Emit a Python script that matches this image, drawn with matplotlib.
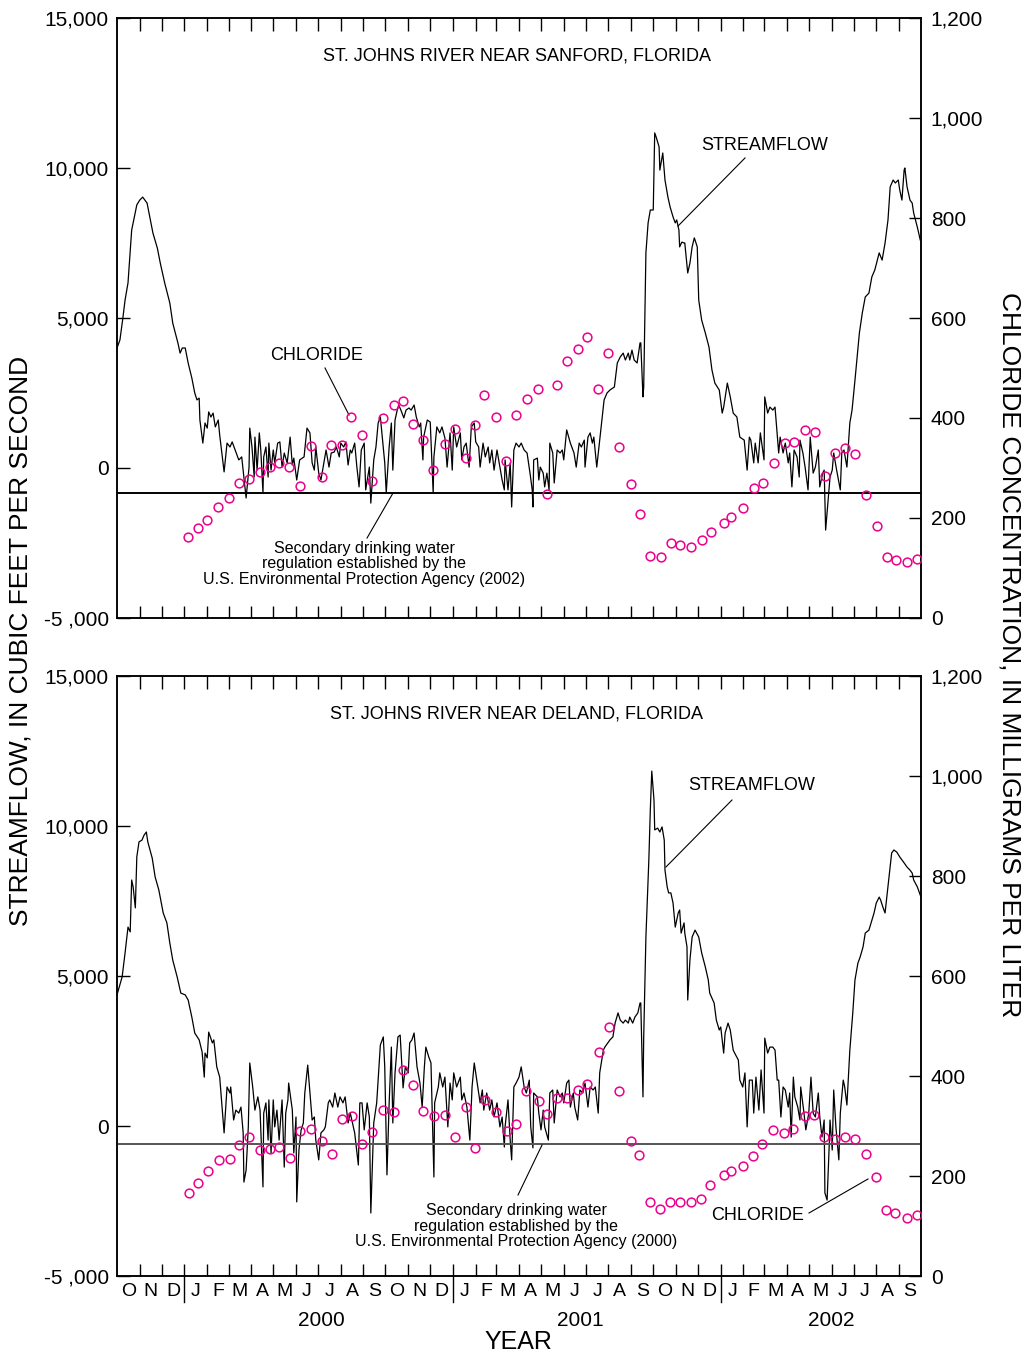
import numpy as np
import matplotlib
matplotlib.use('Agg')
import matplotlib.pyplot as plt
import matplotlib.transforms as mtransforms

plt.rcParams['font.family'] = ['Liberation Sans', 'DejaVu Sans']

START = np.datetime64('1999-10-01')

# streamflow, (days after 1 Oct 1999, cubic feet per second)
SANFORD_FLOW = [
    (0, 4000), (4, 4270), (8, 5000), (11, 5600), (15, 6170), (16, 6530), (20, 7930), (27, 8770),
    (31, 8930), (35, 9030), (41, 8830), (49, 7830), (55, 7330), (59, 6830), (65, 6170), (72, 5500),
    (76, 4830), (83, 4170), (86, 3830), (89, 4000), (93, 4000), (97, 3500), (102, 3000), (106, 2500),
    (109, 2270), (112, 2330), (113, 1600), (117, 830), (120, 1500), (123, 1330), (125, 1870), (128, 1700),
    (131, 1830), (134, 1370), (138, 1600), (140, 1100), (146, -130), (150, 830), (154, 700), (157, 870),
    (161, 600), (166, 270), (170, 370), (173, -300), (176, -1000), (180, 30), (181, 1330), (184, 700),
    (187, -300), (188, 1030), (191, -70), (194, 1170), (196, 600), (199, -830), (200, 370), (203, 700),
    (206, -300), (207, 830), (210, -70), (213, 600), (215, 170), (219, 830), (222, 870), (225, 30),
    (228, 500), (232, 170), (236, 1030), (239, 100), (241, 330), (245, -400), (249, 270), (255, 370),
    (259, 1330), (263, 1170), (266, 170), (269, -70), (271, 700), (275, -170), (278, -400), (282, 170),
    (285, 600), (289, 30), (292, 500), (296, 530), (299, 700), (303, 370), (305, 830), (309, 700),
    (312, 870), (315, 100), (318, 600), (320, 500), (324, 830), (327, 30), (330, -630), (333, 600),
    (337, 830), (339, -730), (344, 30), (346, -1170), (350, 270), (353, 700), (356, 1500), (359, 1700),
    (363, 700), (365, 170), (367, -830), (371, 700), (374, 1500), (376, -70), (379, 1600), (382, 1930),
    (384, 2100), (387, 1930), (391, 1670), (394, 1930), (398, 2000), (401, 1930), (405, 2100), (408, 1700),
    (412, 1370), (414, 1500), (417, 270), (418, 1030), (423, 1600), (427, 1530), (431, -830), (432, 370),
    (436, 1370), (440, 1170), (443, 1370), (447, 1000), (450, 30), (454, 1170), (457, -70), (459, 1370),
    (463, 700), (468, 1170), (470, 270), (473, 700), (476, 830), (480, 30), (483, 1370), (487, 1500),
    (489, 870), (493, 700), (495, 30), (499, 830), (502, 370), (506, 700), (508, 170), (511, 600),
    (514, -70), (518, 600), (522, 30), (525, -400), (528, -730), (529, 270), (533, -730), (536, 170),
    (538, -1300), (541, 600), (544, 830), (548, 700), (551, 830), (555, 600), (559, 500), (563, -170),
    (566, -730), (567, -1300), (568, 270), (573, 330), (575, -400), (577, 30), (581, -170), (583, -630),
    (586, -170), (589, -730), (590, 830), (594, 500), (596, -500), (600, 600), (604, 500), (607, 600),
    (609, 270), (613, 1270), (618, 830), (620, 700), (623, 500), (626, 30), (630, 830), (633, 700),
    (637, 930), (638, 30), (642, 1030), (645, 1170), (648, 830), (650, 1030), (654, 30), (657, 700),
    (661, 1600), (664, 2270), (668, 2500), (672, 2600), (678, 2700), (682, 3500), (686, 3700), (690, 3830),
    (693, 3600), (697, 3830), (699, 3600), (702, 3930), (705, 3600), (709, 3500), (713, 4170), (714, 4170),
    (717, 2370), (718, 2700), (721, 7170), (724, 8170), (727, 8600), (731, 8600), (733, 11170), (735, 11030),
    (739, 10700), (740, 9930), (744, 10500), (747, 9600), (751, 9030), (754, 8700), (758, 8370), (761, 8170),
    (763, 8270), (766, 7930), (767, 7370), (770, 7530), (773, 7500), (774, 7500), (778, 6500), (781, 6830),
    (784, 7370), (787, 7670), (791, 7370), (793, 5600), (797, 4930), (802, 4500), (807, 4030), (811, 3270),
    (815, 2830), (821, 2600), (825, 1830), (827, 2030), (832, 2830), (836, 2370), (840, 1830), (845, 1700),
    (849, 1030), (855, 930), (859, -70), (862, 1030), (864, 930), (868, 170), (870, 830), (874, 170),
    (877, 1170), (882, 270), (883, 2370), (887, 1830), (890, 2030), (894, 1930), (897, 2030), (902, 500),
    (904, 1030), (908, 500), (911, 830), (915, 170), (917, 500), (920, -630), (923, 600), (927, 370),
    (930, -300), (931, 930), (935, 500), (938, 30), (942, -730), (945, 1030), (949, -170), (952, 30),
    (956, 600), (958, -630), (962, -170), (964, -70), (966, -2070), (969, -1170), (972, -300), (975, -70),
    (977, 500), (981, -70), (986, -730), (988, 500), (991, 600), (995, 30), (999, 1500), (1002, 1930),
    (1006, 2930), (1012, 4500), (1016, 5170), (1020, 5700), (1025, 5830), (1029, 6370), (1033, 6600),
    (1039, 7170), (1043, 6930), (1047, 7500), (1051, 8270), (1054, 9370), (1058, 9600), (1061, 9500),
    (1065, 9600), (1067, 9270), (1070, 8930), (1073, 9930), (1074, 10000), (1077, 9370), (1081, 8930),
    (1084, 8830), (1086, 8500), (1091, 8030), (1095, 7600),
]

# chloride samples, (days after 1 Oct 1999, milligrams per liter)
SANFORD_CL = [
    (97, 162), (110, 180), (123, 196), (138, 222), (153, 240), (166, 270), (180, 278), (195, 292),
    (209, 302), (221, 310), (234, 302), (249, 264), (264, 344), (279, 282), (292, 346), (307, 346),
    (319, 402), (334, 366), (348, 274), (363, 400), (378, 426), (390, 434), (403, 388), (417, 356),
    (431, 296), (447, 348), (461, 378), (476, 320), (488, 386), (500, 446), (517, 402), (530, 314),
    (544, 406), (559, 438), (574, 458), (586, 248), (600, 466), (614, 514), (628, 538), (641, 562),
    (656, 458), (670, 530), (685, 342), (700, 268), (713, 208), (727, 124), (741, 122), (755, 150),
    (768, 146), (783, 142), (797, 156), (810, 172), (827, 190), (837, 202), (853, 220), (868, 260),
    (880, 270), (895, 310), (911, 350), (923, 352), (938, 376), (952, 372), (965, 284), (979, 330),
    (993, 340), (1006, 328), (1021, 246), (1036, 184), (1050, 122), (1062, 116), (1077, 112), (1091, 118),
]

DELAND_FLOW = [
    (0, 4370), (7, 4970), (11, 5770), (15, 6630), (18, 6470), (20, 8200), (22, 7970), (25, 7270),
    (27, 8970), (30, 9470), (34, 9530), (37, 9700), (40, 9800), (42, 9470), (48, 8930), (52, 8300),
    (57, 7870), (63, 7100), (68, 6770), (72, 6100), (76, 5530), (82, 4970), (87, 4430), (93, 4370),
    (97, 4200), (102, 3630), (106, 3100), (112, 2870), (116, 2470), (119, 1630), (120, 2430), (123, 2270),
    (125, 3130), (130, 2770), (132, 2870), (136, 1970), (140, 1630), (146, -230), (150, 1300), (154, 1100),
    (155, 1300), (159, 200), (162, 530), (166, 430), (169, 630), (172, -230), (173, -1870), (176, -1470),
    (179, -30), (181, 2100), (185, 1300), (188, 530), (192, 970), (195, 530), (199, -2030), (200, 430),
    (203, 770), (206, -470), (207, 870), (210, -900), (213, 870), (215, -30), (218, 530), (221, -470),
    (225, 870), (228, -1370), (230, 430), (233, 870), (234, 1430), (239, 530), (241, -900), (244, 300),
    (245, -2530), (248, -800), (251, -130), (254, 100), (256, 1100), (260, 2030), (263, 1100), (266, 200),
    (269, 300), (271, -470), (275, -1130), (278, -230), (282, -130), (284, -30), (288, 770), (290, 870),
    (294, 630), (297, 1100), (301, 630), (304, 970), (308, 770), (311, 970), (315, 100), (318, 430),
    (323, -130), (324, -230), (329, -1300), (331, 770), (334, 770), (337, -130), (341, 770), (344, 300),
    (346, -2900), (349, -700), (350, 100), (354, 770), (359, 2700), (363, 2970), (365, 1970), (368, -1630),
    (371, 770), (374, 2630), (376, 100), (379, 1770), (383, 2970), (386, 3030), (390, 1270), (393, 1970),
    (397, 1770), (399, 2770), (402, 2870), (405, 3100), (409, 1970), (413, 1430), (416, 630), (419, 1970),
    (421, 2630), (425, 2300), (428, 2100), (432, -1700), (433, 770), (438, 1300), (440, 1770), (444, 1300),
    (447, 1630), (451, -30), (454, 1430), (457, 870), (459, 1770), (463, 1300), (468, 1630), (470, 870),
    (473, 1100), (477, 630), (481, -470), (484, 1300), (487, 2100), (491, 1430), (495, 770), (498, 1200),
    (500, 530), (504, 1100), (508, 530), (511, 870), (514, 300), (518, 770), (522, -30), (525, 300),
    (528, -700), (529, -30), (533, 870), (536, -470), (538, -1130), (541, 1300), (544, 1430), (548, 1630),
    (551, 1970), (555, 1300), (558, 1100), (562, 1530), (564, -30), (567, -730), (568, 1100), (573, 970),
    (575, 430), (578, -130), (581, 530), (583, -30), (588, -470), (590, 1100), (594, 1200), (596, 100),
    (600, 1200), (604, 970), (607, 1100), (609, 770), (613, 1430), (616, 1530), (618, 630), (622, 1100),
    (624, 630), (628, 200), (631, 1200), (635, 1100), (638, 1430), (642, 630), (645, 1300), (649, 1200),
    (652, 1300), (656, 430), (658, 1770), (663, 2530), (665, 2630), (669, 2770), (672, 2870), (676, 2970),
    (679, 3430), (683, 3770), (686, 3530), (690, 3430), (693, 3530), (697, 3430), (699, 3630), (703, 3430),
    (706, 3630), (710, 3770), (713, 4100), (714, 4100), (717, 970), (718, 2970), (721, 6300), (725, 8870),
    (727, 10530), (729, 11830), (732, 10870), (733, 9870), (737, 9930), (740, 9800), (743, 9970), (746, 9530),
    (747, 8530), (750, 7970), (752, 7770), (755, 7770), (758, 7430), (761, 6630), (765, 7100), (767, 7200),
    (769, 6430), (773, 6770), (774, 6430), (777, 5970), (778, 4200), (781, 5530), (784, 6300), (788, 6530),
    (793, 6300), (797, 5770), (802, 5300), (806, 4870), (808, 4430), (814, 4100), (817, 3530), (821, 3200),
    (823, 3300), (827, 2430), (829, 3100), (833, 3430), (836, 3200), (840, 2530), (842, 2430), (847, 2200),
    (849, 1530), (853, 1300), (856, 1770), (859, -30), (862, 1530), (866, 1530), (868, 430), (871, 1630),
    (875, 530), (878, 1870), (882, 430), (883, 2930), (887, 2430), (890, 2630), (894, 2630), (897, 2530),
    (900, 1530), (902, 1530), (905, 300), (908, 1300), (911, 1200), (915, 630), (917, 1100), (919, -370),
    (922, 1630), (924, 970), (928, 630), (931, 200), (932, 1300), (936, 530), (939, -130), (943, 430),
    (946, 1630), (949, 430), (952, 300), (956, 1100), (958, 300), (961, -370), (964, 200), (965, -2230),
    (968, -2470), (971, -570), (972, 200), (975, -800), (977, 1200), (980, -30), (984, -1130), (986, 430),
    (990, 1530), (992, 1300), (995, 700), (998, 2100), (999, 2530), (1003, 3770), (1006, 4870), (1010, 5430),
    (1013, 5630), (1017, 5970), (1020, 6430), (1025, 6530), (1028, 6770), (1032, 7100), (1035, 7430),
    (1039, 7630), (1041, 7530), (1044, 7300), (1047, 7100), (1050, 7770), (1054, 8630), (1056, 9100),
    (1059, 9200), (1063, 9130), (1067, 8970), (1070, 8870), (1073, 8770), (1077, 8630), (1081, 8530),
    (1084, 8430), (1086, 8200), (1091, 7970), (1096, 7630),
]

DELAND_CL = [
    (98, 166), (110, 186), (124, 210), (139, 232), (154, 234), (166, 262), (180, 278), (195, 252),
    (209, 254), (221, 258), (236, 236), (249, 290), (264, 294), (279, 270), (293, 244), (307, 314),
    (320, 320), (334, 264), (348, 288), (363, 332), (378, 328), (390, 412), (404, 382), (417, 330),
    (432, 320), (447, 322), (461, 278), (476, 338), (488, 256), (502, 352), (517, 328), (531, 290),
    (544, 305), (558, 371), (575, 351), (586, 325), (600, 357), (614, 357), (628, 373), (641, 385),
    (657, 448), (671, 498), (684, 370), (701, 270), (712, 242), (727, 148), (740, 134), (754, 148),
    (767, 148), (782, 148), (796, 154), (808, 182), (827, 202), (837, 210), (853, 220), (867, 240),
    (879, 264), (894, 292), (909, 286), (922, 294), (938, 320), (950, 322), (964, 278), (979, 274),
    (992, 278), (1006, 274), (1021, 244), (1035, 198), (1048, 132), (1061, 126), (1077, 116), (1091, 122),
]

STATIONS = ['ST. JOHNS RIVER NEAR SANFORD, FLORIDA', 'ST. JOHNS RIVER NEAR DELAND, FLORIDA']
REG_CL = [250, 265]
REG_NOTE = ['Secondary drinking water\nregulation established by the\n'
            'U.S. Environmental Protection Agency (2002)',
            'Secondary drinking water\nregulation established by the\n'
            'U.S. Environmental Protection Agency (2000)']

FLOW_TICKS = [-5000, 0, 5000, 10000, 15000]
FLOW_LABELS = ['-5 ,000', '0', '5,000', '10,000', '15,000']
CL_TICKS = [0, 200, 400, 600, 800, 1000, 1200]
CL_LABELS = ['0', '200', '400', '600', '800', '1,000', '1,200']

MONTH_LETTERS = list('ONDJFMAMJJASONDJFMAMJJASONDJFMAMJJAS')
YEARS = ['2000', '2001', '2002']
YEAR_LABEL_AT = ['2000-07-05', '2001-06-23', '2002-05-31']

MAGENTA = '#EC008C'

months = np.arange(np.datetime64('1999-10'), np.datetime64('2002-11'), dtype='datetime64[M]')
edges = (months.astype('datetime64[D]') - START).astype(int)
mids = 0.5 * (edges[:-1] + edges[1:])
year_edges = [e for m, e in zip(months, edges) if str(m).endswith('-01')]


def leader(ax, text, txy, p0, p1, size=13):
    ax.text(txy[0], txy[1], text, transform=ax.transAxes, ha='center', va='center', fontsize=size)
    ax.plot([p0[0], p1[0]], [p0[1], p1[1]], transform=ax.transAxes, color='k', lw=0.8)


def panel(ax, flow, chloride, station, reg, reg_color, show_months):
    d, q = np.array(flow, dtype=float).T
    ax.plot(d, q, color='k', lw=0.9, zorder=2)
    ax.set_xlim(edges[0], edges[-1])
    ax.set_ylim(-5000, 15000)
    ax.set_yticks(FLOW_TICKS)
    ax.set_yticklabels(FLOW_LABELS)
    ax.set_xticks(edges[1:-1])
    ax.set_xticks(mids, minor=True)
    ax.tick_params(axis='y', direction='in', length=9, width=1, labelsize=15, pad=6)
    ax.tick_params(axis='x', which='major', direction='in', length=9, width=1,
                   top=True, bottom=True, labelbottom=False)
    if show_months:
        ax.set_xticklabels(MONTH_LETTERS, minor=True)
        ax.tick_params(axis='x', which='minor', length=0, labelsize=14, pad=5)
    else:
        ax.tick_params(axis='x', which='minor', length=0, labelbottom=False)

    ax2 = ax.twinx()
    ax2.axhline(reg, color=reg_color, lw=1.4, zorder=1)
    cd, cv = np.array(chloride, dtype=float).T
    ax2.plot(cd, cv, 'o', mfc='none', mec=MAGENTA, ms=6.3, mew=1.1, zorder=3)
    ax2.set_ylim(0, 1200)
    ax2.set_yticks(CL_TICKS)
    ax2.set_yticklabels(CL_LABELS)
    ax2.tick_params(axis='y', direction='in', length=9, width=1, labelsize=15, pad=7)
    for a in (ax, ax2):
        for s in a.spines.values():
            s.set_linewidth(1.1)
    ax.text(0.4975, 0.936, station, transform=ax.transAxes, ha='center', va='center', fontsize=13)
    return ax2


fig = plt.figure(figsize=(10.29, 13.58), dpi=100)
ax_top = fig.add_axes([117 / 1029, 1 - 618 / 1358, 804 / 1029, 600 / 1358])
ax_bot = fig.add_axes([117 / 1029, 1 - 1276 / 1358, 804 / 1029, 600 / 1358])

t2 = panel(ax_top, SANFORD_FLOW, SANFORD_CL, STATIONS[0], REG_CL[0], 'k', False)
b2 = panel(ax_bot, DELAND_FLOW, DELAND_CL, STATIONS[1], REG_CL[1], '#555555', True)

# labels with leader lines, positions in axes fraction
leader(t2, 'CHLORIDE', (0.2488, 0.4367), (0.2587, 0.4167), (0.2886, 0.3383))
leader(t2, 'STREAMFLOW', (0.806, 0.7867), (0.7811, 0.7667), (0.6978, 0.6533))
t2.text(0.3072, 0.09, REG_NOTE[0], transform=t2.transAxes, ha='center', va='center',
        fontsize=11.5, linespacing=1.05)
t2.plot([0.311, 0.3433], [0.1333, 0.2083], transform=t2.transAxes, color='k', lw=0.8)

leader(b2, 'STREAMFLOW', (0.7898, 0.8167), (0.7649, 0.7933), (0.6828, 0.6817))
leader(b2, 'CHLORIDE', (0.7973, 0.10), (0.8607, 0.105), (0.9341, 0.1617))
b2.text(0.4963, 0.0833, REG_NOTE[1], transform=b2.transAxes, ha='center', va='center',
        fontsize=11.5, linespacing=1.05)
b2.plot([0.4988, 0.5286], [0.135, 0.2183], transform=b2.transAxes, color='k', lw=0.8)

# year separators below the month letters, and year labels
blend = mtransforms.blended_transform_factory(ax_bot.transData, ax_bot.transAxes)
for e in year_edges:
    ax_bot.plot([e, e], [0, -0.043], transform=blend, color='k', lw=1.0, clip_on=False)
for yr, at in zip(YEARS, YEAR_LABEL_AT):
    x = (np.datetime64(at) - START).astype(int)
    ax_bot.text(x, -0.075, yr, transform=blend, ha='center', va='center', fontsize=15)

fig.text(518 / 1029, 1 - 1342 / 1358, 'YEAR', ha='center', va='center', fontsize=18)
fig.text(21 / 1029, 1 - 641 / 1358, 'STREAMFLOW, IN CUBIC FEET PER SECOND',
         rotation=90, ha='center', va='center', fontsize=19)
fig.text(1009 / 1029, 1 - 655 / 1358, 'CHLORIDE CONCENTRATION, IN MILLIGRAMS PER LITER',
         rotation=270, ha='center', va='center', fontsize=19)

fig.savefig('out.png', dpi=100)
